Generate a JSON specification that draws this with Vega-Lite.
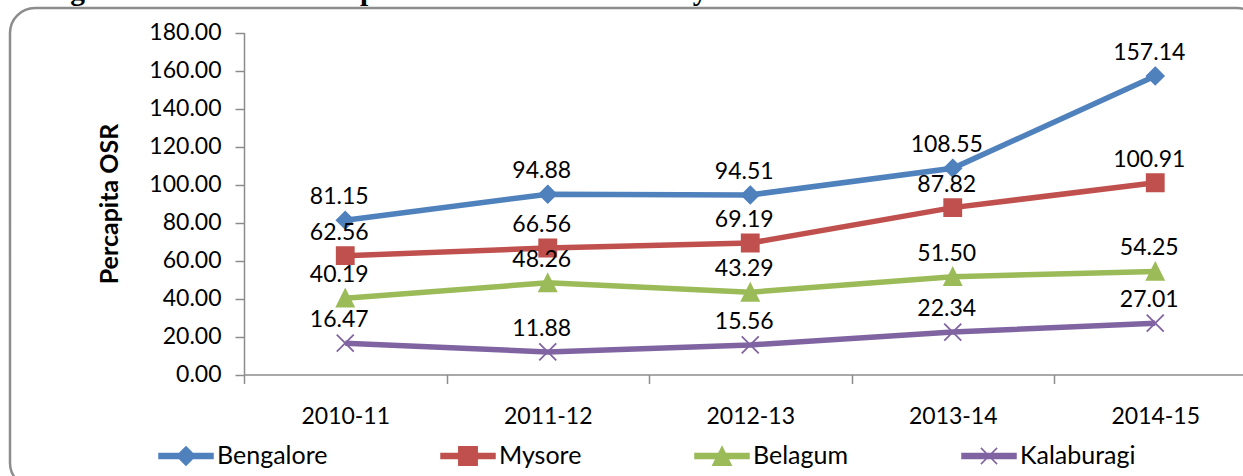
{
  "$schema": "https://vega.github.io/schema/vega-lite/v6.json",
  "autosize": "none",
  "width": 1252,
  "height": 480,
  "padding": {"left": 10, "top": 8, "right": 0, "bottom": 0},
  "background": "white",
  "title": {
    "text": "Figure 4: Trend of Per capita OSR of Gram Panchayats in Four Divisions in Karnataka",
    "font": "Liberation Serif",
    "fontWeight": "bold",
    "fontSize": 29.5,
    "color": "black",
    "anchor": "start",
    "baseline": "alphabetic",
    "offset": -21,
    "dx": 34
  },
  "config": {
    "view": {"stroke": "#8c8c8c", "strokeWidth": 2.5, "cornerRadius": 25},
    "font": "Lato",
    "axis": {"grid": false, "labelFont": "Lato", "labelFontSize": 23, "labelColor": "black", "domainColor": "#8c8c8c", "tickColor": "#8c8c8c", "domainWidth": 1.5, "tickWidth": 1.5}
  },
  "data": {
    "values": [
      {"Year": "2010-11", "Division": "Bengalore", "OSR": 81.15},
      {"Year": "2011-12", "Division": "Bengalore", "OSR": 94.88},
      {"Year": "2012-13", "Division": "Bengalore", "OSR": 94.51},
      {"Year": "2013-14", "Division": "Bengalore", "OSR": 108.55},
      {"Year": "2014-15", "Division": "Bengalore", "OSR": 157.14},
      {"Year": "2010-11", "Division": "Mysore", "OSR": 62.56},
      {"Year": "2011-12", "Division": "Mysore", "OSR": 66.56},
      {"Year": "2012-13", "Division": "Mysore", "OSR": 69.19},
      {"Year": "2013-14", "Division": "Mysore", "OSR": 87.82},
      {"Year": "2014-15", "Division": "Mysore", "OSR": 100.91},
      {"Year": "2010-11", "Division": "Belagum", "OSR": 40.19},
      {"Year": "2011-12", "Division": "Belagum", "OSR": 48.26},
      {"Year": "2012-13", "Division": "Belagum", "OSR": 43.29},
      {"Year": "2013-14", "Division": "Belagum", "OSR": 51.50},
      {"Year": "2014-15", "Division": "Belagum", "OSR": 54.25},
      {"Year": "2010-11", "Division": "Kalaburagi", "OSR": 16.47},
      {"Year": "2011-12", "Division": "Kalaburagi", "OSR": 11.88},
      {"Year": "2012-13", "Division": "Kalaburagi", "OSR": 15.56},
      {"Year": "2013-14", "Division": "Kalaburagi", "OSR": 22.34},
      {"Year": "2014-15", "Division": "Kalaburagi", "OSR": 27.01}
    ]
  },
  "encoding": {
    "x": {
      "field": "Year", "type": "nominal", "sort": null,
      "scale": {"type": "band", "range": [234, 1246.5], "paddingInner": 0, "paddingOuter": 0},
      "axis": {"title": null, "orient": "bottom", "offset": -113.5, "labelAngle": 0, "tickBand": "extent", "tickSize": 9, "labelPadding": 22}
    },
    "y": {
      "field": "OSR", "type": "quantitative",
      "scale": {"domain": [0, 180], "nice": false, "zero": false, "range": [366.5, 24.5]},
      "axis": {"title": "Percapita OSR", "orient": "left", "offset": -234, "values": [0, 20, 40, 60, 80, 100, 120, 140, 160, 180], "format": ".2f", "tickSize": 9, "labelPadding": 14, "titleFont": "Lato", "titleFontSize": 25, "titleFontWeight": "bold", "titleColor": "black", "titlePadding": 26}
    }
  },
  "layer": [
    {
      "mark": {"type": "line", "strokeWidth": 5.5},
      "encoding": {
        "color": {"field": "Division", "type": "nominal", "scale": {"domain": ["Bengalore", "Mysore", "Belagum", "Kalaburagi"], "range": ["#4f81bd", "#c0504d", "#9bbb59", "#8064a2"]}, "legend": null}
      }
    },
    {
      "mark": {"type": "point", "filled": true, "opacity": 1, "size": 290, "strokeWidth": 1.8},
      "encoding": {
        "color": {"field": "Division", "type": "nominal", "legend": null},
        "stroke": {"field": "Division", "type": "nominal", "scale": {"domain": ["Bengalore", "Mysore", "Belagum", "Kalaburagi"], "range": ["#4f81bd", "#c0504d", "#9bbb59", "#8064a2"]}, "legend": null},
        "shape": {"field": "Division", "type": "nominal", "scale": {"domain": ["Bengalore", "Mysore", "Belagum", "Kalaburagi"], "range": ["M0,-1L1,0L0,1L-1,0Z", "M-1,-1H1V1H-1Z", "M0,-1L1,1H-1Z", "M-1,-1L1,1M-1,1L1,-1"]}, "legend": null}
      }
    },
    {
      "mark": {"type": "point", "opacity": 0, "strokeWidth": 1.5},
      "encoding": {
        "fill": {"field": "Division", "type": "nominal", "scale": {"domain": ["Bengalore", "Mysore", "Belagum", "Kalaburagi"], "range": ["#4f81bd", "#c0504d", "#9bbb59", "#8064a2"]}},
        "stroke": {"field": "Division", "type": "nominal", "scale": {"domain": ["Bengalore", "Mysore", "Belagum", "Kalaburagi"], "range": ["#4f81bd", "#c0504d", "#9bbb59", "#8064a2"]}},
        "shape": {
          "field": "Division", "type": "nominal",
          "scale": {"domain": ["Bengalore", "Mysore", "Belagum", "Kalaburagi"], "range": [
            "M-1,-0.095H1V0.095H-1ZM0,-0.34L0.34,0L0,0.34L-0.34,0Z",
            "M-1,-0.095H1V0.095H-1ZM-0.34,-0.34H0.34V0.34H-0.34Z",
            "M-1,-0.095H1V0.095H-1ZM0,-0.34L0.34,0.34H-0.34Z",
            "M-1,-0.095H1V0.095H-1ZM-0.3,-0.3L0.3,0.3M-0.3,0.3L0.3,-0.3"
          ]},
          "legend": {
            "title": null, "orient": "none", "legendX": 148, "legendY": 420, "direction": "horizontal", "columns": 4, "columnPadding": 110, "gridAlign": "each",
            "symbolSize": 2916, "symbolStrokeWidth": 1.5, "symbolOpacity": 1, "labelOffset": 3, "labelFont": "Lato", "labelFontSize": 25, "labelColor": "black", "labelLimit": 400, "padding": 0
          }
        }
      }
    },
    {
      "mark": {"type": "text", "font": "Lato", "fontSize": 23, "color": "black", "baseline": "alphabetic", "align": "center", "dx": -6, "dy": -16},
      "encoding": {"text": {"field": "OSR", "type": "quantitative", "format": ".2f"}}
    }
  ],
  "resolve": {"scale": {"shape": "independent", "fill": "independent", "stroke": "independent"}}
}
